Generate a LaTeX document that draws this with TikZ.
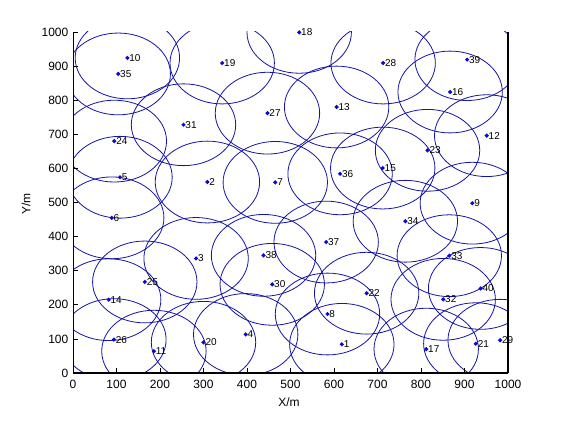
\documentclass[tikz,border=0pt]{standalone}
\usepackage{fontspec}
\setmainfont{Liberation Sans}
\usetikzlibrary{shapes.geometric}
\definecolor{circblue}{RGB}{20,20,165}
\definecolor{ptblue}{RGB}{10,10,210}
\tikzset{
  circ/.style={draw=circblue, line width=0.8pt},
  ptmark/.style={diamond, fill=ptblue, inner sep=0pt, minimum size=4.6pt},
  lab/.style={anchor=west, inner sep=0pt, font=\fontsize{10}{11}\selectfont},
  ticklab/.style={inner sep=0pt, font=\fontsize{12}{13}\selectfont},
  axlab/.style={inner sep=0pt, font=\fontsize{12}{13}\selectfont},
  tickmark/.style={draw=black, line width=0.7pt}
}
\begin{document}
\begin{tikzpicture}[x=1pt,y=1pt]
\useasboundingbox[fill=white] (0,0) rectangle (561,420);
\begin{scope}[shift={(73pt,47pt)}, x=0.435pt, y=0.341pt]
  \foreach \i/\X/\Y in {1/618/84, 2/309/560, 3/283/336, 4/397/113, 5/108/574,
    6/89/455, 7/465/559, 8/585/173, 9/918/498, 10/125/924,
    11/186/64, 12/951/696, 13/606/780, 14/82/215, 15/712/601,
    16/867/824, 17/812/70, 18/520/999, 19/343/909, 20/300/90,
    21/926/86, 22/675/234, 23/815/653, 24/95/680, 25/165/267,
    26/94/98, 27/447/762, 28/713/909, 29/982/96, 30/458/260,
    31/254/728, 32/851/216, 33/865/344, 34/764/445, 35/104/877,
    36/614/584, 37/582/384, 38/438/345, 39/906/919, 40/937/248}
    {\coordinate (c\i) at (\X,\Y);}
  % sensing circles, clipped to the axes
  \begin{scope}
    \clip (0,0) rectangle (1000,1000);
    \foreach \i in {1,...,40}
      {\draw[circ] (c\i) circle [x radius=52.2pt, y radius=40.9pt];}
  \end{scope}
  % axes
  \coordinate (o) at (0,0);
  \coordinate (xe) at (1000,0);
  \coordinate (ye) at (0,1000);
  \coordinate (xye) at (1000,1000);
  \draw[line width=0.8pt] (o) -- (ye);
  \draw[line width=2pt] (o) -- (xe);
  \draw[line width=2pt] (xe) -- (xye);
  \foreach \v in {0,100,...,1000} {
    \coordinate (xt\v) at (\v,0);
    \coordinate (yt\v) at (0,\v);
    \draw[tickmark] (xt\v) -- ++(0,5pt);
    \draw[tickmark] (yt\v) -- ++(5pt,0);
    \node[ticklab, anchor=center, yshift=-11pt] (xl\v) at (xt\v) {\v};
    \node[ticklab, anchor=east, xshift=-4.5pt] (yl\v) at (yt\v) {\v};
  }
  % nodes and labels
  \foreach \i in {1,...,40} {
    \node[ptmark] (p\i) at (c\i) {};
    \node[lab] (l\i) at ([xshift=1.8pt]c\i) {\i};
  }
\end{scope}
\node[axlab] (xlab) at (289,18) {X/m};
\node[axlab, rotate=90] (ylab) at (26,216) {Y/m};
\end{tikzpicture}
\end{document}
